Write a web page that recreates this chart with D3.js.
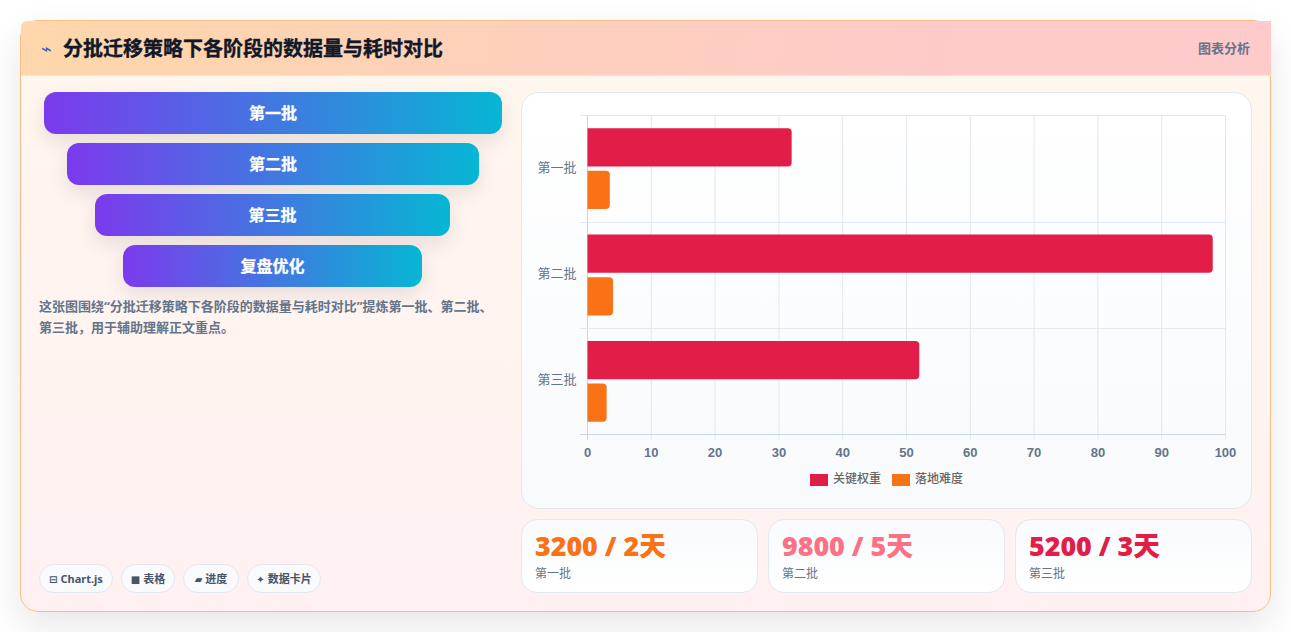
<!DOCTYPE html>
<html lang="zh"><head><meta charset="utf-8">
<script src="https://cdn.jsdelivr.net/npm/d3@7/dist/d3.min.js"></script>
<style>
*{box-sizing:border-box}
html,body{margin:0;padding:0;width:1291px;height:632px;overflow:hidden;background:#fff;font-family:"Noto Sans","Noto Sans CJK SC",sans-serif}
.card{position:absolute;left:20px;top:20px;width:1251px;height:592px;border:1px solid #f3bf85;border-radius:18px;background:linear-gradient(180deg,#fff7ed 0%,#fff1f2 100%);box-shadow:0 14px 36px rgba(15,23,42,.10)}
.head{position:absolute;left:0;top:0;width:1250px;height:55px;background:linear-gradient(100deg,#fed7aa 0%,#fecaca 75%,#fecaca 100%);border-bottom:1px solid #f1e4e0;border-top-left-radius:6px}
.ttl{position:absolute;left:42px;top:13px;font-size:20px;font-weight:700;color:#111827;line-height:30px;white-space:nowrap;-webkit-text-stroke:.35px #111827}
.ico{position:absolute;left:20px;top:18px;font-size:18px;line-height:20px;color:#3b5bdb;font-family:"DejaVu Sans"}
.tag{position:absolute;right:21px;top:17px;font-size:13px;font-weight:700;color:#64748b;line-height:20px}
.fb{position:absolute;height:42px;border-radius:12px;background:linear-gradient(90deg,#7c3aed,#06b6d4);color:#fff;font-size:16px;font-weight:700;text-align:center;line-height:42px;box-shadow:0 8px 20px rgba(15,23,42,.10);-webkit-text-stroke:.25px #fff}
.note{position:absolute;left:18px;top:275px;width:465px;font-size:13px;font-weight:700;color:#64748b;line-height:21px}
.chip{position:absolute;top:543px;height:29px;border:1px solid #e2e8f0;border-radius:15px;background:#f8fafc;font-size:11px;font-weight:700;color:#475569;line-height:27px;text-align:center;white-space:nowrap}
.chip i{font-style:normal;font-family:"DejaVu Sans";font-size:10px;margin-right:3px}
.panel{position:absolute;left:500px;top:71px;width:731px;height:417px;border:1px solid #e2e8f0;border-radius:18px;background:linear-gradient(180deg,#fff 0%,#f8fafc 100%)}
.kpi{position:absolute;top:498px;height:74px;width:237px;border:1px solid #e2e8f0;border-radius:16px;background:linear-gradient(180deg,#f8fafc,#fff)}
.kpi b{position:absolute;left:13px;top:8px;font-size:26.8px;font-weight:900;line-height:36px;white-space:nowrap;font-family:"Open Sans","Noto Sans CJK SC",sans-serif}
.kpi span{position:absolute;left:13px;top:45px;font-size:12px;color:#64748b;line-height:18px}
svg{position:absolute;left:0;top:0}
</style></head><body>
<div class="card" id="card">
<div class="head"><span class="ico">⌁</span><div class="ttl" id="title"></div><div class="tag" id="tag"></div></div>
<div class="panel"></div>
</div>
<svg id="chart" width="1291" height="632"></svg>
<script>
const chartTitle="分批迁移策略下各阶段的数据量与耗时对比";
const panelTag="图表分析";
const funnelSteps=["第一批","第二批","第三批","复盘优化"];
const funnelLefts=[23,46,74,102];
const funnelWidths=[458,412,355,299];
const noteText="这张图围绕“分批迁移策略下各阶段的数据量与耗时对比”提炼第一批、第二批、第三批，用于辅助理解正文重点。";
const chipIcons=["⊟","■","▰","✦"];
const chipLabels=["Chart.js","表格","进度","数据卡片"];
const chipLefts=[18,100,162,226];
const chipWidths=[74,54,56,74];
const categories=["第一批","第二批","第三批"];
const seriesNames=["关键权重","落地难度"];
const keyWeight=[32,98,52];
const difficulty=[3.5,4,3];
const seriesColors=["#e11d48","#f97316"];
const xTicks=[0,10,20,30,40,50,60,70,80,90,100];
const kpiValues=["3200 / 2天","9800 / 5天","5200 / 3天"];
const kpiColors=["#f97316","#fb7185","#e11d48"];
const kpiLefts=[500,747,994];

const card=d3.select("#card");
d3.select("#title").text(chartTitle);
d3.select("#tag").text(panelTag);
card.selectAll(".fb").data(funnelSteps).enter().append("div").attr("class","fb")
 .style("left",(d,i)=>funnelLefts[i]+"px").style("width",(d,i)=>funnelWidths[i]+"px")
 .style("top",(d,i)=>(71+i*51)+"px").text(d=>d);
card.append("div").attr("class","note").text(noteText);
const c=card.selectAll(".chip").data(chipLabels).enter().append("div").attr("class","chip")
 .style("left",(d,i)=>chipLefts[i]+"px").style("width",(d,i)=>chipWidths[i]+"px");
c.append("i").text((d,i)=>chipIcons[i]);
c.append("span").text(d=>d);
const k=card.selectAll(".kpi").data(kpiValues).enter().append("div").attr("class","kpi")
 .style("left",(d,i)=>kpiLefts[i]+"px");
k.append("b").text(d=>d).style("color",(d,i)=>kpiColors[i]);
k.append("span").text((d,i)=>categories[i]);

const svg=d3.select("#chart");
const x=d3.scaleLinear().domain([0,100]).range([587.5,1225.5]);
const y=d3.scaleBand().domain(categories).range([115.5,434.5]);
const inner=d3.scaleBand().domain(seriesNames).range([y.bandwidth()*0.1,y.bandwidth()*0.9]);
const barH=inner.bandwidth()*0.9, barOff=inner.bandwidth()*0.05;
const grid="#e2e8f0";
svg.append("g").selectAll("line").data(xTicks).enter().append("line")
 .attr("x1",d=>x(d)).attr("x2",d=>x(d)).attr("y1",115.5).attr("y2",440)
 .attr("stroke",(d)=>d===0?"#cbd5e1":grid);
const yLines=categories.map(c=>Math.round(y(c)-.01)+.5);
svg.append("g").selectAll("line").data(yLines).enter().append("line")
 .attr("x1",580).attr("x2",1225.5).attr("y1",d=>d).attr("y2",d=>d).attr("stroke",grid);
svg.append("line").attr("x1",580).attr("x2",1225.5).attr("y1",434.5).attr("y2",434.5).attr("stroke","#cbd5e1");
const rows=[keyWeight,difficulty];
rows.forEach((vals,s)=>{
 const g=svg.append("g");
 g.selectAll("path").data(vals).enter().append("path")
 .attr("fill",seriesColors[s])
 .attr("d",(v,i)=>{
  const x0=x(0),x1=x(v),t=y(categories[i])+inner(seriesNames[s])+barOff,h=barH,r=4;
  return `M${x0},${t}H${x1-r}Q${x1},${t} ${x1},${t+r}V${t+h-r}Q${x1},${t+h} ${x1-r},${t+h}H${x0}Z`;
 });
});
const tickFont="'Liberation Sans',Arial,sans-serif";
svg.append("g").selectAll("text").data(xTicks).enter().append("text")
 .attr("x",d=>x(d)).attr("y",456.5).attr("text-anchor","middle").attr("font-family",tickFont)
 .attr("font-size",13).attr("font-weight",700).attr("fill","#64748b").text(d=>d);
svg.append("g").selectAll("text").data(categories).enter().append("text")
 .attr("x",576.5).attr("y",d=>y(d)+y.bandwidth()/2+3).attr("text-anchor","end")
 .attr("font-size",13).attr("fill","#64748b").text(d=>d);
const lx=[810,892];
seriesNames.forEach((n,i)=>{
 svg.append("rect").attr("x",lx[i]).attr("y",474).attr("width",18).attr("height",12).attr("fill",seriesColors[i]);
 svg.append("text").attr("x",lx[i]+23).attr("y",483).attr("font-size",12).attr("font-weight",500).attr("fill","#666").text(n);
});
</script></body></html>
